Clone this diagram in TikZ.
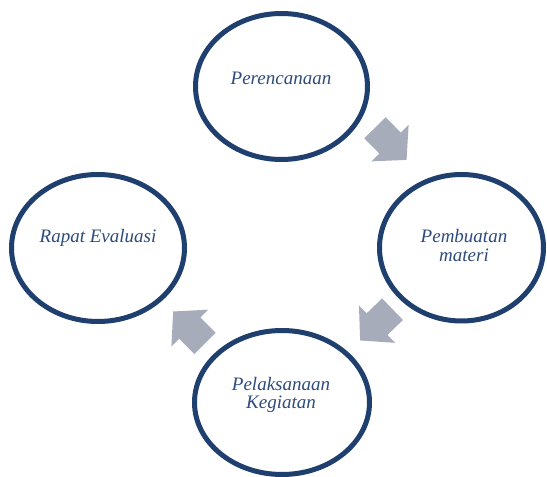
\documentclass[tikz,border=0pt]{standalone}
\usepackage{fontspec}
\setmainfont{Liberation Serif}
\usetikzlibrary{shapes.geometric}
\definecolor{ringblue}{HTML}{1F3F6F}
\definecolor{textblue}{HTML}{2D4B7D}
\definecolor{arrowgray}{HTML}{A6ACBA}
\tikzset{
  ring/.style={draw=ringblue, line width=5pt, ellipse, fill=white, inner sep=0pt},
  lbl/.style={text=textblue, font=\fontsize{19}{19.5}\selectfont\itshape, align=center, inner sep=0pt},
  blockarrow/.style={fill=arrowgray, draw=none}
}
\newcommand{\cyclearrow}[3]{%
  \begin{scope}[shift={(#1,#2)}, rotate=#3]
    \path[blockarrow] (0,15) -- (21.5,15) -- (21.5,26) -- (45,0) -- (21.5,-26) -- (21.5,-15) -- (0,-15) -- cycle;
  \end{scope}}
\begin{document}
\begin{tikzpicture}[x=1pt,y=1pt]
\useasboundingbox (0,0) rectangle (547,477);
\fill[white] (0,0) rectangle (547,477);
% ellipses
\node[ring, minimum width=172pt, minimum height=146pt] (plan) at (281.5,390.5) {};
\node[ring, minimum width=164pt, minimum height=146.5pt] (make) at (461.5,229.25) {};
\node[ring, minimum width=175pt, minimum height=144pt] (run) at (282,74.5) {};
\node[ring, minimum width=173pt, minimum height=147pt] (eval) at (98,229) {};
% labels
\node[lbl, anchor=base] (tplan) at (281,392) {Perencanaan};
\node[lbl, anchor=base] (teval) at (98,234.3) {Rapat Evaluasi};
\node[lbl, anchor=base] (tmake1) at (464,234) {Pembuatan};
\node[lbl, anchor=base] (tmake2) at (464,215) {materi};
\node[lbl, anchor=base] (trun1) at (281,86) {Pelaksanaan};
\node[lbl, anchor=base] (trun2) at (281,68) {Kegiatan};
% arrows
\cyclearrow{375}{349.2}{-45.5}
\cyclearrow{392.5}{167.8}{-136}
\cyclearrow{205}{133.7}{135}
\end{tikzpicture}
\end{document}
